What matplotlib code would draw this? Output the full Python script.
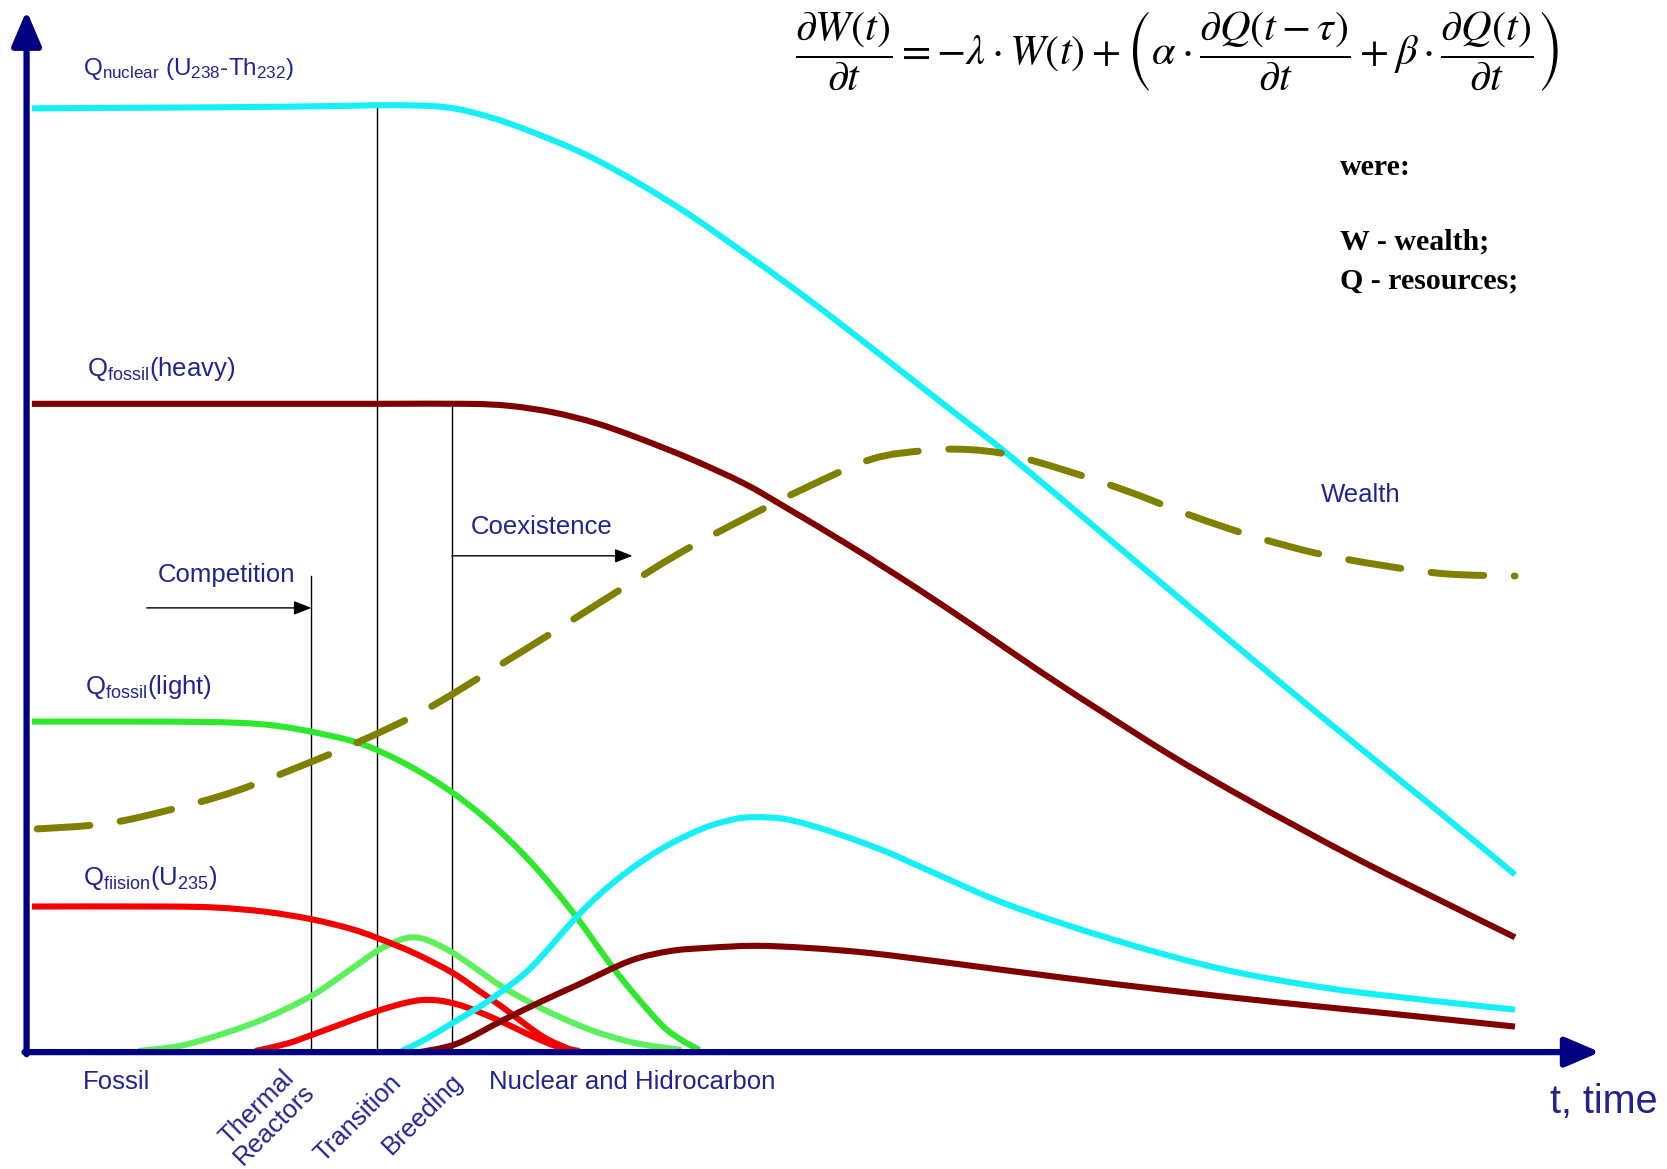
import matplotlib
matplotlib.use("Agg")
import matplotlib.pyplot as plt
import numpy as np
from matplotlib.path import Path
from matplotlib.patches import PathPatch

plt.rcParams['font.family'] = ['Liberation Sans', 'DejaVu Sans']
plt.rcParams['mathtext.fontset'] = 'custom'
plt.rcParams['mathtext.rm'] = 'Liberation Sans'
plt.rcParams['mathtext.it'] = 'Liberation Sans:italic'
plt.rcParams['mathtext.bf'] = 'Liberation Sans:bold'

# ---------------- data (t = time, v = quantity) ----------------
nuclear_t = [5, 75, 175, 275, 345, 395, 435, 475, 525, 575, 625, 675, 725, 775, 825, 875, 925, 1025, 1125, 1225, 1325, 1400]
nuclear_v = [888, 888.5, 889, 890, 891, 889, 880, 866, 845, 818, 787, 752, 716, 678, 639, 600, 561, 477, 393, 310, 229, 167]

heavy_t = [5, 175, 325, 415, 455, 495, 535, 575, 625, 675, 715, 775, 835, 895, 955, 1015, 1075, 1135, 1195, 1255, 1315, 1400]
heavy_v = [610, 610, 610, 610, 608, 602, 592, 578, 558, 535, 512, 476, 438, 398, 357, 318, 280, 245, 212, 180, 150, 108]

light_t = [5, 125, 195, 235, 275, 315, 355, 395, 435, 475, 515, 555, 595, 615, 633]
light_v = [311, 311, 310, 307, 300, 290, 272, 248, 217, 178, 130, 75, 28, 12, 2]

fission_t = [5, 125, 178, 225, 268, 305, 331, 365, 400, 425, 448, 472, 490, 515]
fission_v = [137, 137, 136, 132, 125, 116, 107, 93, 75, 58, 42, 24, 12, 1]

lightbump_t = [105, 145, 187, 225, 268, 305, 331, 350, 363, 378, 400, 425, 448, 475, 497, 525, 545, 575, 616]
lightbump_v = [1, 6, 18, 32, 53, 78, 96, 105, 108, 105, 94, 77, 61, 46, 35, 23, 16, 8, 2]

redbump_t = [215, 245, 268, 295, 331, 355, 372, 388, 405, 425, 448, 465, 482, 500, 520]
redbump_v = [1, 8, 16, 26, 39, 46, 49, 48.5, 45, 38, 28, 20, 12, 5, 1]

cyanbump_t = [353, 375, 400, 425, 444, 475, 520, 555, 595, 635, 665, 685, 715, 755, 805, 855, 925, 1025, 1125, 1225, 1325, 1400]
cyanbump_v = [1, 12, 27, 42, 55, 80, 130, 162, 190, 210, 219, 221, 219, 208, 190, 168, 138, 105, 78, 60, 48, 40]

heavybump_t = [370, 405, 448, 485, 520, 568, 605, 639, 685, 735, 795, 875, 975, 1075, 1175, 1275, 1400]
heavybump_v = [0, 8, 30, 48, 64, 86, 95, 98, 100, 98, 93, 83, 70, 58, 47, 37, 24]

wealth_t = [10, 75, 135, 195, 255, 315, 375, 435, 495, 555, 615, 675, 735, 795, 845, 885, 925, 975, 1035, 1095, 1155, 1215, 1275, 1335, 1400]
wealth_v = [210, 215, 228, 245, 268, 293, 322, 358, 395, 433, 470, 502, 532, 558, 566, 567, 562, 548, 528, 505, 485, 469, 458, 450, 448]

# phase boundaries (time) and their heights
phase_t = [268, 330, 400]
phase_top = [448, 891, 610]

bottom_labels = ["Fossil", "Thermal\nReactors", "Transition", "Breeding", "Nuclear and Hidrocarbon"]

# ---------------- colours ----------------
NAVY = "#000080"
TXT = "#23238f"
CYAN = "#14f0f5"
DRED = "#800000"
GREEN = "#2ee82e"
LGREEN = "#5cf05c"
RED = "#f50000"
OLIVE = "#7f7f00"

fig = plt.figure(figsize=(16.67, 11.69), dpi=100)
ax = fig.add_axes([0, 0, 1, 1])
ax.set_xlim(-25, 1543)
ax.set_ylim(-110, 990)
ax.axis('off')


def smooth_curve(ax, t, v, **kw):
    """Draw a smooth (Catmull-Rom as cubic Bezier) curve through the given points."""
    p = np.column_stack([t, v]).astype(float)
    verts = [p[0]]
    codes = [Path.MOVETO]
    n = len(p)
    for i in range(n - 1):
        p0 = p[i - 1] if i > 0 else p[i]
        p1 = p[i]
        p2 = p[i + 1]
        p3 = p[i + 2] if i + 2 < n else p[i + 1]
        c1 = p1 + (p2 - p0) / 6.0
        c2 = p2 - (p3 - p1) / 6.0
        verts += [c1, c2, p2]
        codes += [Path.CURVE4] * 3
    patch = PathPatch(Path(verts, codes), fill=False, **kw)
    ax.add_patch(patch)
    return patch


LW = 4.4
smooth_curve(ax, nuclear_t, nuclear_v, edgecolor=CYAN, lw=LW, joinstyle='round', zorder=3)
smooth_curve(ax, heavy_t, heavy_v, edgecolor=DRED, lw=LW, joinstyle='round', zorder=3)
smooth_curve(ax, light_t, light_v, edgecolor=GREEN, lw=LW, joinstyle='round', zorder=3)
smooth_curve(ax, lightbump_t, lightbump_v, edgecolor=LGREEN, lw=LW, joinstyle='round', zorder=3)
smooth_curve(ax, fission_t, fission_v, edgecolor=RED, lw=LW, joinstyle='round', zorder=3)
smooth_curve(ax, redbump_t, redbump_v, edgecolor=RED, lw=LW, joinstyle='round', zorder=3)
smooth_curve(ax, cyanbump_t, cyanbump_v, edgecolor=CYAN, lw=LW, joinstyle='round', zorder=3)
smooth_curve(ax, heavybump_t, heavybump_v, edgecolor=DRED, lw=LW, joinstyle='round', zorder=3)
smooth_curve(ax, wealth_t, wealth_v, edgecolor=OLIVE, lw=5.0, capstyle='round',
             linestyle=(0, (7.6, 4.4)), zorder=4)

# phase lines
for t, top in zip(phase_t, phase_top):
    ax.plot([t, t], [0, top], color='black', lw=1.0, zorder=2)

# Competition / Coexistence arrows
ax.annotate('', xy=(phase_t[0], 418), xytext=(113, 418),
            arrowprops=dict(arrowstyle='-|>,head_length=0.9,head_width=0.35', color='black', lw=1.0,
                            shrinkA=0, shrinkB=0, mutation_scale=12))
ax.annotate('', xy=(570, 467), xytext=(phase_t[2], 467),
            arrowprops=dict(arrowstyle='-|>,head_length=0.9,head_width=0.35', color='black', lw=1.0,
                            shrinkA=0, shrinkB=0, mutation_scale=12))

# main axes arrows
ax.annotate('', xy=(1480, 0), xytext=(-2, 0),
            arrowprops=dict(arrowstyle='-|>,head_length=0.75,head_width=0.32', color=NAVY, lw=4.5,
                            shrinkA=0, shrinkB=0, mutation_scale=28), zorder=5)
ax.annotate('', xy=(0, 980), xytext=(0, -2),
            arrowprops=dict(arrowstyle='-|>,head_length=0.75,head_width=0.32', color=NAVY, lw=4.5,
                            shrinkA=0, shrinkB=0, mutation_scale=28), zorder=5)

FS = 18.5
ax.text(53, 925, r"Q$_{\mathrm{nuclear}}$ (U$_{\mathrm{238}}$-Th$_{\mathrm{232}}$)", color=TXT, fontsize=FS - 1, va='center', ha='left')
ax.text(57, 643, r"Q$_{\mathrm{fossil}}$(heavy)", color=TXT, fontsize=FS, va='center', ha='left')
ax.text(55, 344, r"Q$_{\mathrm{fossil}}$(light)", color=TXT, fontsize=FS, va='center', ha='left')
ax.text(53, 164, r"Q$_{\mathrm{fiision}}$(U$_{\mathrm{235}}$)", color=TXT, fontsize=FS, va='center', ha='left')
ax.text(123, 449, "Competition", color=TXT, fontsize=FS, va='center', ha='left')
ax.text(418, 494, "Coexistence", color=TXT, fontsize=FS, va='center', ha='left')
ax.text(1217, 524, "Wealth", color=TXT, fontsize=FS, va='center', ha='left')

ax.text(53, -28, bottom_labels[0], color=TXT, fontsize=FS, va='center', ha='left')
ax.text(225, -60, bottom_labels[1], color=TXT, fontsize=FS, va='center', ha='center',
        rotation=45, multialignment='center', linespacing=1.0)
ax.text(312, -62, bottom_labels[2], color=TXT, fontsize=FS, va='center', ha='center', rotation=45)
ax.text(373, -58, bottom_labels[3], color=TXT, fontsize=FS, va='center', ha='center', rotation=45)
ax.text(435, -28, bottom_labels[4], color=TXT, fontsize=FS, va='center', ha='left')
ax.text(1433, -47, "t, time", color=TXT, fontsize=28.5, va='center', ha='left')

SERIF = ['Liberation Serif', 'DejaVu Serif']
ax.text(1235, 832, "were:", family=SERIF, fontweight='bold', fontsize=21.5, va='center', ha='left')
ax.text(1235, 762, "W - wealth;", family=SERIF, fontweight='bold', fontsize=21.5, va='center', ha='left')
ax.text(1235, 726, "Q - resources;", family=SERIF, fontweight='bold', fontsize=21.5, va='center', ha='left')

eq = (r"$\dfrac{\partial W(t)}{\partial t} = -\lambda \cdot W(t) + "
      r"\left(\alpha \cdot \dfrac{\partial Q(t-\tau)}{\partial t} + "
      r"\beta \cdot \dfrac{\partial Q(t)}{\partial t}\right)$")
ax.text(1082, 942, eq, math_fontfamily='stix', fontsize=30.5, va='center', ha='center', color='black')

fig.savefig("out.png", dpi=100)
